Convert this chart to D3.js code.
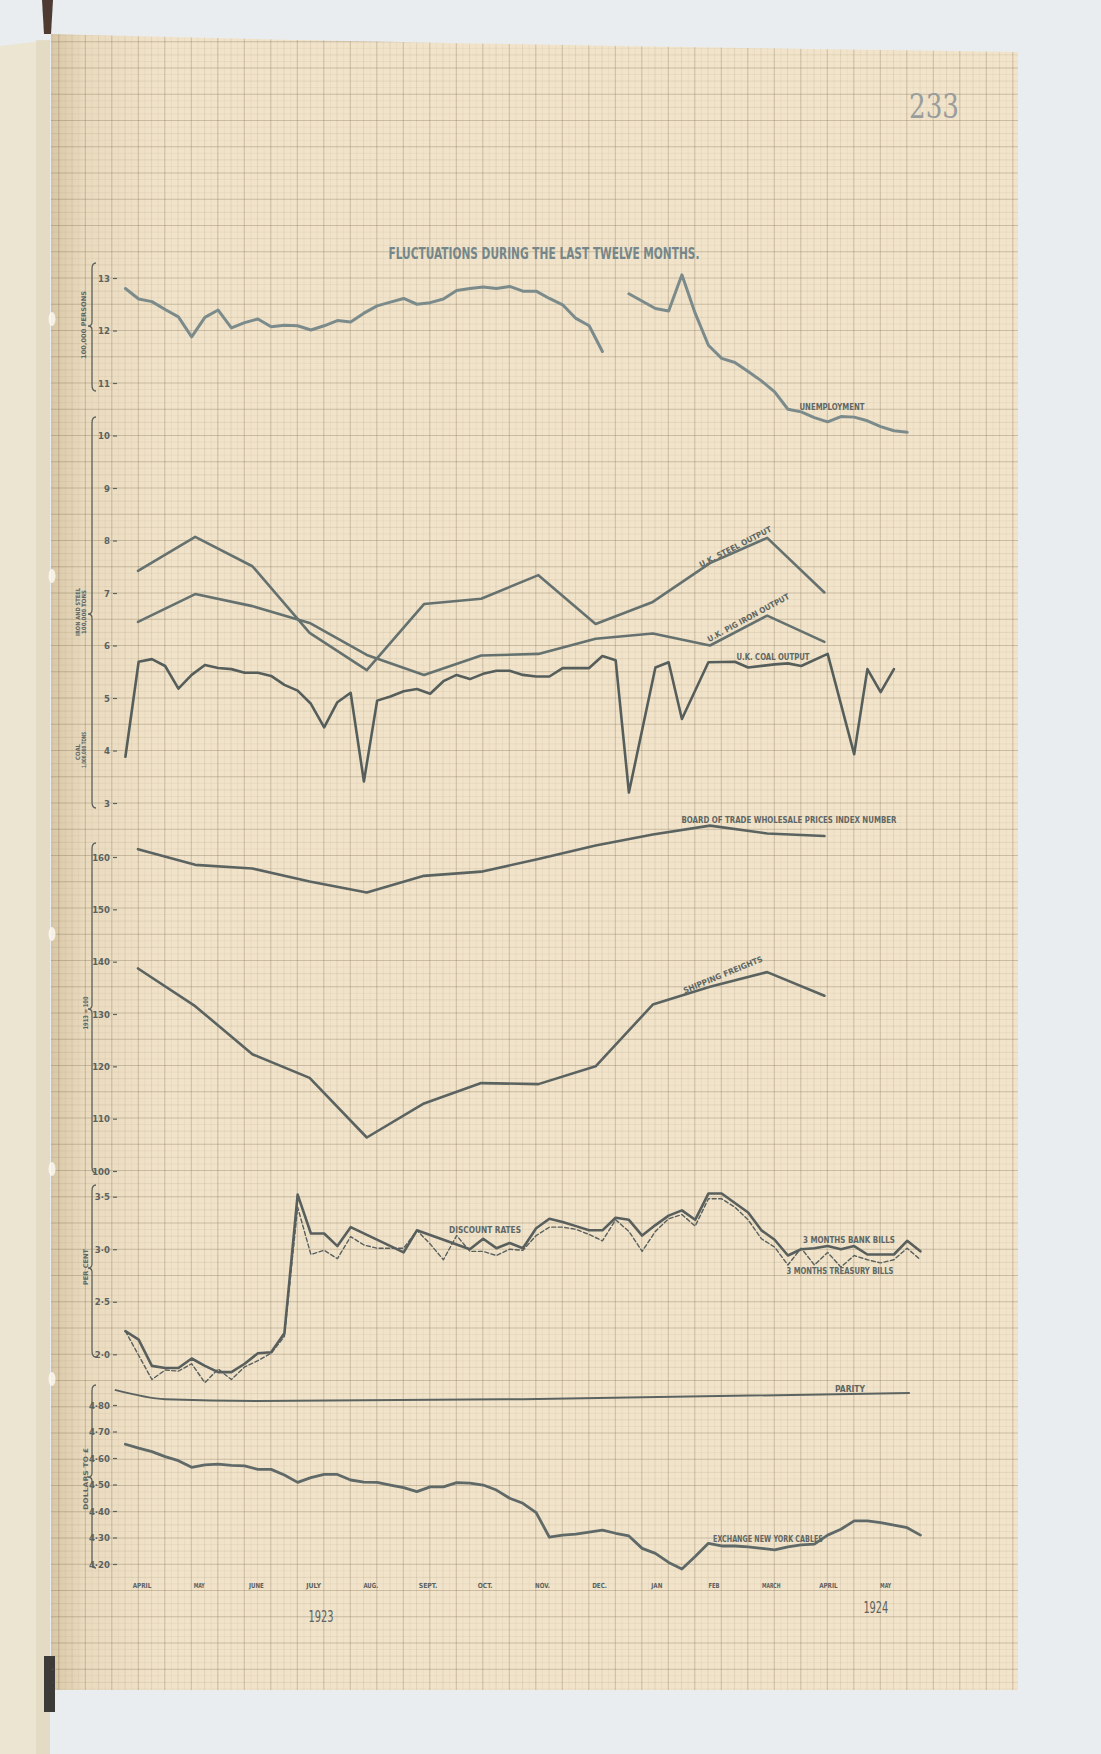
<!DOCTYPE html>
<html><head><meta charset="utf-8">
<script src="https://cdn.jsdelivr.net/npm/d3@7"></script>
<style>
html,body{margin:0;padding:0;background:#e9edf0;}
svg{display:block;}
</style></head><body>
<svg id="c" width="1101" height="1754"></svg>
<script>
// ---------------- DATA ----------------
const monthLabels = ["APRIL","MAY","JUNE","JULY","AUG.","SEPT.","OCT.","NOV.","DEC.","JAN","FEB","MARCH","APRIL","MAY"];
const yearLabels = ["1923","1924"];

// Unemployment (100,000 persons), weekly; null = gap
const unempWeeks = [0,1,2,3,4,5,6,7,8,9,10,11,12,13,14,15,16,17,18,19,20,21,22,23,24,25,26,27,28,29,30,31,32,33,34,35,36,37,38,40,41,42,43,44,45,46,47,48,49,50,51,52,53,54,55,56,57,58,59];
const unempValues = [12.80,12.60,12.55,12.40,12.26,11.88,12.25,12.39,12.05,12.15,12.22,12.07,12.10,12.09,12.01,12.09,12.19,12.16,12.33,12.47,12.54,12.61,12.50,12.53,12.60,12.76,12.80,12.83,12.80,12.84,12.75,12.75,12.61,12.49,12.23,12.09,11.60,null,12.70,12.42,12.37,13.06,12.33,11.72,11.47,11.39,11.22,11.04,10.83,10.50,10.45,10.34,10.26,10.36,10.35,10.28,10.17,10.09,10.06];

// Monthly iron & steel (100,000 tons), April 1923 .. April 1924
const steelValues = [7.42,8.07,7.51,6.24,5.53,6.79,6.89,7.34,6.41,6.83,7.57,8.05,7.01];
const pigIronValues = [6.45,6.98,6.75,6.43,5.82,5.44,5.81,5.84,6.13,6.23,6.00,6.57,6.07];

// Coal (1,000,000 tons), weekly
const coalWeeks = [0,1,2,3,4,5,6,7,8,9,10,11,12,13,14,15,16,17,18,19,20,21,22,23,24,25,26,27,28,29,30,31,32,33,34,35,36,37,38,40,41,42,44,46,47,49,50,51,53,55,56,57,58];
const coalValues = [3.88,5.69,5.74,5.61,5.18,5.44,5.63,5.57,5.55,5.48,5.48,5.42,5.25,5.14,4.89,4.44,4.92,5.10,3.41,4.95,5.03,5.13,5.17,5.08,5.32,5.44,5.36,5.46,5.52,5.52,5.44,5.41,5.41,5.57,5.57,5.57,5.80,5.72,3.20,5.58,5.68,4.60,5.68,5.69,5.58,5.64,5.66,5.61,5.84,3.93,5.55,5.11,5.55];

// Index numbers (1913 = 100), monthly
const wholesaleValues = [161.5,158.5,157.8,155.3,153.2,156.4,157.2,159.6,162.2,164.3,166.0,164.5,164.0];
const shippingValues = [138.7,131.5,122.3,117.8,106.4,112.9,116.8,116.6,120.0,131.8,135.2,138.0,133.5];

// Discount rates (per cent), weekly
const bankWeeks = [0,1,2,3,4,5,6,7,8,9,10,11,12,13,14,15,16,17,21,22,26,27,28,29,30,31,32,33,34,35,36,37,38,39,40,41,42,43,44,45,46,47,48,49,50,51,52,53,54,55,56,57,58,59,60];
const bankValues = [2.22,2.14,1.89,1.87,1.87,1.96,1.89,1.83,1.83,1.91,2.01,2.02,2.20,3.52,3.15,3.15,3.03,3.21,2.97,3.18,3.00,3.10,3.01,3.06,3.01,3.20,3.29,3.26,3.22,3.18,3.18,3.30,3.28,3.13,3.23,3.32,3.37,3.28,3.53,3.53,3.44,3.35,3.18,3.09,2.94,3.00,3.01,3.03,3.00,3.03,2.95,2.95,2.95,3.08,2.98];
const treasuryWeeks = [0,2,3,4,5,6,7,8,9,10,11,12,13,14,15,16,17,18,19,21,22,23,24,25,26,27,28,29,30,31,32,33,34,35,36,37,38,39,40,41,42,43,44,45,46,47,48,49,50,51,52,53,54,55,56,57,58,59,60];
const treasuryValues = [2.22,1.76,1.85,1.84,1.91,1.73,1.86,1.76,1.88,1.94,2.01,2.17,3.40,2.95,2.99,2.91,3.12,3.04,3.01,3.01,3.18,3.05,2.90,3.13,2.98,2.98,2.94,3.00,2.99,3.13,3.21,3.21,3.19,3.14,3.08,3.28,3.17,2.98,3.17,3.29,3.33,3.22,3.48,3.48,3.40,3.28,3.10,3.02,2.85,3.01,2.85,2.97,2.83,2.94,2.90,2.87,2.90,3.01,2.90];

// Exchange New York cables (dollars to £), weekly
const exchangeValues = [4.652,4.637,4.624,4.605,4.590,4.565,4.574,4.577,4.572,4.570,4.557,4.557,4.536,4.508,4.526,4.538,4.538,4.517,4.509,4.508,4.498,4.488,4.473,4.491,4.491,4.507,4.505,4.498,4.479,4.448,4.429,4.394,4.301,4.309,4.313,4.320,4.328,4.316,4.306,4.259,4.240,4.206,4.181,4.228,4.278,4.268,4.268,4.265,4.259,4.253,4.265,4.272,4.275,4.309,4.331,4.363,4.363,4.356,4.347,4.337,4.309];
const parityWeeks = [-0.8,3,10,30,59.2];
const parityValues = [4.857,4.822,4.815,4.822,4.845];

// tick values
const unempTicks = [13,12,11];
const ironCoalTicks = [10,9,8,7,6,5,4,3];
const indexTicks = [160,150,140,130,120,110,100];
const discountTicks = [3.5,3.0,2.5,2.0];
const exchangeTicks = [4.8,4.7,4.6,4.5,4.4,4.3,4.2];

// ---------------- SCALES ----------------
const xWeek = d3.scaleLinear().domain([0,60]).range([125.4,920.4]);
const xMonth = d3.scaleLinear().domain([0,13]).range([138,881.6]);
const yTop = d3.scaleLinear().domain([13,3]).range([278,803]);
const yIdx = d3.scaleLinear().domain([160,100]).range([857,1171]);
const yDisc = d3.scaleLinear().domain([3.5,2.0]).range([1196.7,1354.3]);
const yExch = d3.scaleLinear().domain([4.8,4.2]).range([1405,1564]);

const svg = d3.select('#c');
const defs = svg.append('defs');
const grad = defs.append('linearGradient').attr('id','shade').attr('x1','0').attr('x2','1').attr('y1','0').attr('y2','0');
grad.append('stop').attr('offset','0').attr('stop-color','#d9c7a6');
grad.append('stop').attr('offset','0.035').attr('stop-color','#eadbbf');
grad.append('stop').attr('offset','0.12').attr('stop-color','#f1e3c9');
grad.append('stop').attr('offset','1').attr('stop-color','#f2e4ca');

// background & left page
svg.append('rect').attr('width',1101).attr('height',1754).attr('fill','#e9edf0');
svg.append('path').attr('d','M0,46 L50,40 L50,1754 L0,1754 Z').attr('fill','#ece5d1');
svg.append('rect').attr('x',36).attr('y',40).attr('width',14).attr('height',1714).attr('fill','#e1d7bf').attr('opacity',0.7);
svg.append('path').attr('d','M42,0 L53,0 L51,34 L44,34 Z').attr('fill','#4e3a33');

// paper
const paperD = 'M51,34 Q420,44 1018,52 L1018,1690 L51,1690 Z';
defs.append('clipPath').attr('id','paperClip').append('path').attr('d',paperD);
svg.append('path').attr('d',paperD).attr('fill','url(#shade)');
svg.append('rect').attr('x',44).attr('y',1656).attr('width',11).attr('height',56).attr('fill','#3d3b38');

// grid
const grid = svg.append('g').attr('clip-path','url(#paperClip)');
const gcol = ['rgba(125,110,85,0.34)','rgba(125,110,85,0.18)','rgba(125,110,85,0.08)'];
const gx0 = 403.3 - 15*26.5, gstep = 26.5/4;
for (let k=0; ; k++){ const x = gx0 + k*gstep; if (x>1020) break; if (x<50) continue;
  const lvl = k%4===0 ? 0 : (k%2===0 ? 1 : 2);
  grid.append('line').attr('x1',x).attr('x2',x).attr('y1',30).attr('y2',1695)
    .attr('stroke', gcol[lvl]).attr('stroke-width', lvl===0?1:0.8);
}
const gy0 = 278 - 10*26.25, gys = 26.25/4;
for (let k=0; ; k++){ const y = gy0 + k*gys; if (y>1695) break;
  const lvl = k%4===0 ? 0 : (k%2===0 ? 1 : 2);
  grid.append('line').attr('x1',50).attr('x2',1020).attr('y1',y).attr('y2',y)
    .attr('stroke', gcol[lvl]).attr('stroke-width', lvl===0?1:0.8);
}
// tape marks on left edge
[319,576,934,1169,1379].forEach(y=>{
  svg.append('ellipse').attr('cx',52).attr('cy',y).attr('rx',3.5).attr('ry',7).attr('fill','#fbf8f0').attr('opacity',0.85);
});

// ---------------- TEXT HELPERS ----------------
const FONT = "'DejaVu Sans Condensed','Liberation Sans Narrow',sans-serif";
function label(t, x, y, len, size, opt={}){
  const g = svg.append('text').attr('x',x).attr('y',y).text(t)
    .attr('font-family', opt.family||FONT).attr('font-size',size)
    .attr('font-weight', opt.weight||'bold').attr('fill', opt.fill||'#5f6764')
    .attr('text-anchor','middle').attr('dominant-baseline','central');
  if (len) g.attr('textLength',len).attr('lengthAdjust','spacingAndGlyphs');
  if (opt.rot) g.attr('transform',`rotate(${opt.rot},${x},${y})`);
  return g;
}

// title & page number
label('FLUCTUATIONS DURING THE LAST TWELVE MONTHS.', 544, 253, 311, 16, {fill:'#75878a', weight:'bold', family:"'Liberation Sans Narrow','DejaVu Sans Condensed',sans-serif"});
label('233', 934, 106, 50, 34, {fill:'#999d9c', weight:'normal', family:"'DejaVu Serif',serif"});

// ---------------- AXES ----------------
function yAxis(scale, ticks, fmt){
  const g = svg.append('g').attr('transform','translate(117,0)')
    .call(d3.axisLeft(scale).tickValues(ticks).tickSize(4).tickPadding(3).tickFormat(fmt));
  g.select('.domain').remove();
  g.selectAll('.tick line').attr('stroke','#5c625f').attr('stroke-width',1.2);
  g.selectAll('.tick text').attr('font-family',FONT).attr('font-size',9.5).attr('font-weight','bold').attr('fill','#5c625f');
  return g;
}
yAxis(yTop, unempTicks, d=>String(d));
yAxis(yTop, ironCoalTicks, d=>String(d));
yAxis(yIdx, indexTicks, d=>String(d));
yAxis(yDisc, discountTicks, d=>d.toFixed(1).replace('.','·'));
yAxis(yExch, exchangeTicks, d=>d.toFixed(2).replace('.','·'));

function brace(x, top, bottom, tip){
  const p = `M${x+4},${top} Q${x},${top} ${x},${top+6} L${x},${tip-4} Q${x},${tip} ${x-4},${tip} Q${x},${tip} ${x},${tip+4} L${x},${bottom-6} Q${x},${bottom} ${x+4},${bottom}`;
  svg.append('path').attr('d',p).attr('fill','none').attr('stroke','#5c625f').attr('stroke-width',1.3);
}
brace(92, 263, 391, 326);
brace(92, 417, 808, 614);
brace(92, 843, 1173, 1009);
brace(92, 1185, 1357, 1268);
brace(92, 1385, 1568, 1477);

label('100,000 PERSONS', 84, 325, 68, 6.5, {rot:-90});
label('IRON AND STEEL', 77, 612, 48, 6, {rot:-90});
label('100,000 TONS', 83, 612, 44, 6, {rot:-90});
label('COAL', 77, 752, 16, 6, {rot:-90});
label('1,000,000 TONS', 83, 750, 36, 6, {rot:-90});
label('1913 = 100', 86, 1013, 33, 6.5, {rot:-90});
label('PER CENT', 86, 1267, 36, 6.5, {rot:-90});
label('DOLLARS TO £', 86, 1479, 62, 6.5, {rot:-90});

// month labels
monthLabels.forEach((m,i)=>{
  label(m, xMonth(i)+4, 1586, m.length*3.7, 7, {fill:'#5c625f'});
});
label(yearLabels[0], xMonth(3.2), 1617, 25, 15, {weight:'normal', fill:'#5c625f'});
label(yearLabels[1], xMonth(12.9), 1608, 25, 15, {weight:'normal', fill:'#5c625f'});

// ---------------- LINES ----------------
function drawLine(xs, vals, xs2, ys, color, width, dash){
  const pts = vals.map((v,i)=>({x:xs(xs2[i]), v:v}));
  const ln = d3.line().defined(d=>d.v!==null).x(d=>d.x).y(d=>ys(d.v)).curve(d3.curveLinear);
  const p = svg.append('path').attr('d',ln(pts)).attr('fill','none').attr('stroke',color)
    .attr('stroke-width',width).attr('stroke-linejoin','round').attr('stroke-linecap','round');
  if (dash) p.attr('stroke-dasharray',dash);
  return p;
}
const monthIdx = d3.range(13);
drawLine(xWeek, unempValues, unempWeeks, yTop, '#7b8b8b', 3);
drawLine(xMonth, steelValues, monthIdx, yTop, '#65716f', 2.6);
drawLine(xMonth, pigIronValues, monthIdx, yTop, '#65716f', 2.6);
drawLine(xWeek, coalValues, coalWeeks, yTop, '#565e5c', 2.6);
drawLine(xMonth, wholesaleValues, monthIdx, yIdx, '#5b6361', 2.6);
drawLine(xMonth, shippingValues, monthIdx, yIdx, '#5b6361', 2.6);
drawLine(xWeek, bankValues, bankWeeks, yDisc, '#585f5d', 2.6);
drawLine(xWeek, treasuryValues, treasuryWeeks, yDisc, '#585f5d', 1.4, '4,2.5');
const parityLine = d3.line().x((d,i)=>xWeek(parityWeeks[i])).y(d=>yExch(d)).curve(d3.curveMonotoneX);
svg.append('path').attr('d',parityLine(parityValues)).attr('fill','none').attr('stroke','#5b6361').attr('stroke-width',2);
drawLine(xWeek, exchangeValues, d3.range(exchangeValues.length), yExch, '#5f6967', 2.8);

// series labels
label('UNEMPLOYMENT', 832, 407, 65, 8);
label('U.K. STEEL OUTPUT', 735.5, 547, 80, 8, {rot:-27});
label('U.K. PIG IRON OUTPUT', 748.5, 618, 92, 8, {rot:-28.5});
label('U.K. COAL OUTPUT', 773, 657, 73, 8);
label('BOARD OF TRADE WHOLESALE PRICES INDEX NUMBER', 789, 820, 215, 8);
label('SHIPPING FREIGHTS', 723, 975, 85, 8, {rot:-22.4});
label('DISCOUNT RATES', 485, 1230, 72, 8);
label('3 MONTHS BANK BILLS', 849, 1240, 92, 8);
label('3 MONTHS TREASURY BILLS', 840, 1271, 107, 8);
label('PARITY', 850, 1389, 30, 8);
label('EXCHANGE NEW YORK CABLES', 768, 1539, 110, 8);
</script>
</body></html>
